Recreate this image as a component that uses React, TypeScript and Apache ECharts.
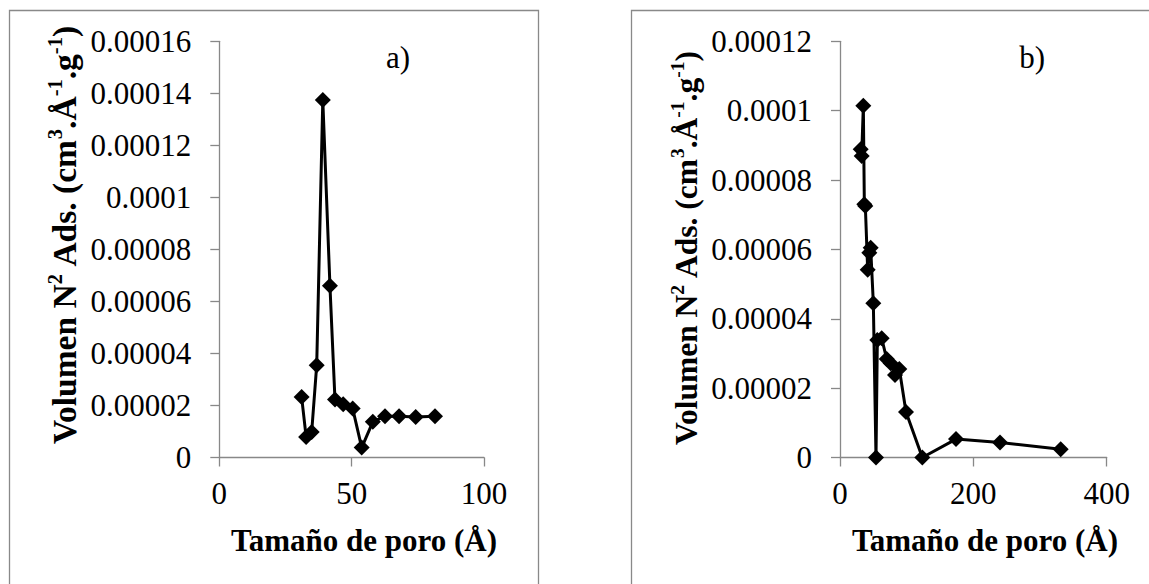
import React, { useEffect, useRef } from "react";
import * as echarts from "echarts";

const FONT = "Liberation Serif";

// Panel a) pore size (Å) and adsorbed volume
const poreA = [31.1, 32.8, 34.9, 36.8, 39.1, 41.8, 43.7, 46.8, 50.4, 53.8, 58.0, 62.6, 67.9, 74.2, 81.5];
const volA = [2.33e-5, 0.79e-5, 0.98e-5, 3.55e-5, 13.74e-5, 6.6e-5, 2.23e-5, 2.05e-5, 1.88e-5, 0.38e-5, 1.37e-5, 1.59e-5, 1.59e-5, 1.56e-5, 1.59e-5];

// Panel b)
const poreB = [31, 32.5, 35, 36.5, 38, 41.5, 44, 46, 50, 54, 56, 62.5, 70, 76, 82.5, 89, 99, 123.5, 174, 240, 331];
const volB = [8.89e-5, 8.69e-5, 10.14e-5, 7.3e-5, 7.25e-5, 5.41e-5, 5.9e-5, 6.05e-5, 4.45e-5, 0, 3.39e-5, 3.44e-5, 2.84e-5, 2.72e-5, 2.38e-5, 2.55e-5, 1.31e-5, 0, 0.53e-5, 0.43e-5, 0.24e-5];

const xTicksA = ["0", "50", "100"];
const yTicksA = ["0", "0.00002", "0.00004", "0.00006", "0.00008", "0.0001", "0.00012", "0.00014", "0.00016"];
const xTicksB = ["0", "200", "400"];
const yTicksB = ["0", "0.00002", "0.00004", "0.00006", "0.00008", "0.0001", "0.00012"];

const xTitle = "Tamaño de poro (Å)";
const yTitleRich = "{b|Volumen N}{s|2}{b| Ads. (cm}{s|3}{b|.Å}{s|-1}{b|.g}{s|-1}{b|)}";
const panelLabels = ["a)", "b)"];

const AXIS_COLOR = "#888888";

function axisCommon(labels: string[], margin: number) {
  return {
    type: "value",
    axisLine: { show: true, onZero: false, lineStyle: { color: AXIS_COLOR, width: 1.3 } },
    axisTick: { show: true, inside: false, length: 9, lineStyle: { color: AXIS_COLOR, width: 1.3 } },
    splitLine: { show: false },
    axisLabel: {
      show: true,
      color: "#000",
      fontFamily: FONT,
      fontSize: 31,
      margin,
      showMinLabel: true,
      showMaxLabel: true,
      formatter: (_v: number, i: number) => labels[i],
    },
  };
}

function seriesStyle() {
  return {
    type: "line",
    symbol: "diamond",
    symbolSize: 16,
    itemStyle: { color: "#000" },
    lineStyle: { color: "#000", width: 3 },
    z: 5,
  };
}

function richStyles(main: number, sup: number) {
  return {
    b: { fontFamily: FONT, fontSize: main, fontWeight: "bold", color: "#000", lineHeight: main + 3, verticalAlign: "bottom" },
    s: { fontFamily: FONT, fontSize: sup, fontWeight: "bold", color: "#000", lineHeight: sup, verticalAlign: "top" },
  };
}

export default function App() {
  const ref = useRef<HTMLDivElement>(null);
  useEffect(() => {
    if (!ref.current) return;
    const chart = echarts.init(ref.current, null, { renderer: "svg" });
    const option: any = {
      animation: false,
      backgroundColor: "#fff",
      textStyle: { fontFamily: FONT },
      grid: [
        { left: 219.3, top: 41.3, width: 264.7, height: 416.2 },
        { left: 840, top: 41.3, width: 266.7, height: 416.2 },
      ],
      xAxis: [
        { ...axisCommon(xTicksA, 20), gridIndex: 0, min: 0, max: 100, interval: 50 },
        { ...axisCommon(xTicksB, 20), gridIndex: 1, min: 0, max: 400, interval: 200 },
      ],
      yAxis: [
        { ...axisCommon(yTicksA, 28), gridIndex: 0, min: 0, max: 0.00016, interval: 0.00002 },
        { ...axisCommon(yTicksB, 28), gridIndex: 1, min: 0, max: 0.00012, interval: 0.00002 },
      ],
      series: [
        { ...seriesStyle(), xAxisIndex: 0, yAxisIndex: 0, data: poreA.map((x, i) => [x, volA[i]]) },
        { ...seriesStyle(), xAxisIndex: 1, yAxisIndex: 1, data: poreB.map((x, i) => [x, volB[i]]) },
      ],
      graphic: [
        { type: "rect", shape: { x: 9.5, y: 10.5, width: 529, height: 620 }, style: { fill: "none", stroke: "#898989", lineWidth: 1.3 }, z: 0 },
        { type: "rect", shape: { x: 631.5, y: 10.5, width: 620, height: 620 }, style: { fill: "none", stroke: "#898989", lineWidth: 1.3 }, z: 0 },
        { type: "text", x: 364, y: 540, style: { text: xTitle, font: "bold 31px Liberation Serif", fill: "#000", align: "center", verticalAlign: "middle" } },
        { type: "text", x: 985, y: 540, style: { text: xTitle, font: "bold 31px Liberation Serif", fill: "#000", align: "center", verticalAlign: "middle" } },
        { type: "text", x: 63, y: 235, rotation: Math.PI / 2, style: { text: yTitleRich, rich: richStyles(33.5, 20.5), fontFamily: FONT, align: "center", verticalAlign: "middle" } },
        { type: "text", x: 685, y: 248, rotation: Math.PI / 2, style: { text: yTitleRich, rich: richStyles(31.5, 19.5), fontFamily: FONT, align: "center", verticalAlign: "middle" } },
        { type: "text", x: 410, y: 57, style: { text: panelLabels[0], font: "31px Liberation Serif", fill: "#000", align: "right", verticalAlign: "middle" } },
        { type: "text", x: 1045, y: 57, style: { text: panelLabels[1], font: "31px Liberation Serif", fill: "#000", align: "right", verticalAlign: "middle" } },
      ],
    };
    chart.setOption(option);
    return () => chart.dispose();
  }, []);
  return (
    <div
      ref={ref}
      style={{ position: "fixed", left: 0, top: 0, width: 1149, height: 584, background: "#fff" }}
    />
  );
}
